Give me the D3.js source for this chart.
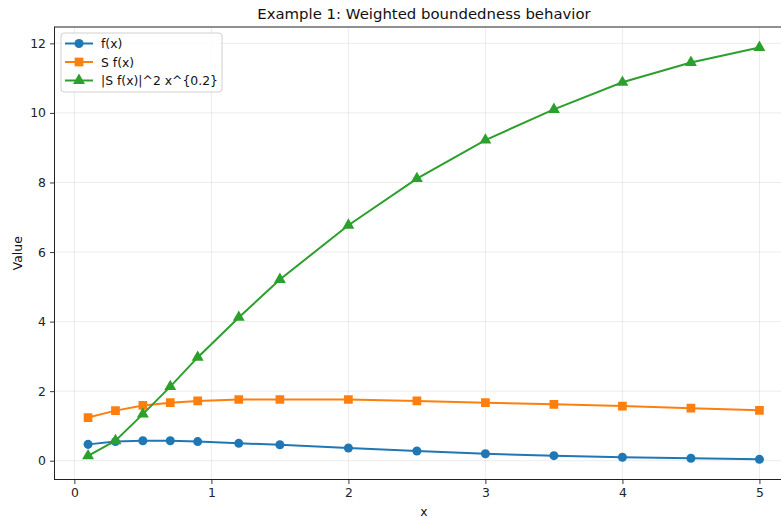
<!DOCTYPE html>
<html>
<head>
<meta charset="utf-8">
<script src="https://cdn.jsdelivr.net/npm/d3@7"></script>
<style>
  body { margin: 0; background: #fff; }
  svg { font-family: "DejaVu Sans", sans-serif; display: block; }
</style>
</head>
<body>
<div id="chart"></div>
<script>
// data
const xs = [0.1, 0.3, 0.5, 0.7, 0.9, 1.2, 1.5, 2.0, 2.5, 3.0, 3.5, 4.0, 4.5, 5.0];
const fVals = [0.47, 0.55, 0.575, 0.575, 0.55, 0.5, 0.46, 0.365, 0.28, 0.2, 0.145, 0.1, 0.07, 0.04];
const sVals = [1.24, 1.44, 1.59, 1.67, 1.72, 1.76, 1.76, 1.76, 1.72, 1.67, 1.62, 1.57, 1.51, 1.45];
const wVals = [0.14, 0.575, 1.34, 2.13, 2.97, 4.12, 5.21, 6.77, 8.11, 9.22, 10.1, 10.88, 11.45, 11.88];
const xTicks = [0, 1, 2, 3, 4, 5];
const yTicks = [0, 2, 4, 6, 8, 10, 12];

const series = [
  { name: "f(x)", values: fVals, color: "#1f77b4", marker: "circle" },
  { name: "S f(x)", values: sVals, color: "#ff7f0e", marker: "square" },
  { name: "|S f(x)|^2 x^{0.2}", values: wVals, color: "#2ca02c", marker: "triangle" }
];

const W = 781, H = 518;
const plot = { left: 54.5, right: 793, top: 27, bottom: 479.5 };
const fs = 12.4;

const svg = d3.select("#chart").append("svg")
  .attr("width", W)
  .attr("height", H);

const x = d3.scaleLinear().domain([-0.145, 5.245]).range([plot.left, plot.right]);
const y = d3.scaleLinear().domain([-0.54, 12.47]).range([plot.bottom, plot.top]);

// grid
const grid = svg.append("g").attr("stroke", "#b0b0b0").attr("stroke-opacity", 0.3).attr("stroke-width", 0.8);
grid.selectAll(".gx").data(xTicks).enter().append("line")
  .attr("x1", d => x(d)).attr("x2", d => x(d))
  .attr("y1", plot.top).attr("y2", plot.bottom);
grid.selectAll(".gy").data(yTicks).enter().append("line")
  .attr("x1", plot.left).attr("x2", plot.right)
  .attr("y1", d => y(d)).attr("y2", d => y(d));

// axes
const xAxis = d3.axisBottom(x).tickValues(xTicks).tickFormat(d3.format("d")).tickSize(4.5).tickSizeOuter(0).tickPadding(4);
const yAxis = d3.axisLeft(y).tickValues(yTicks).tickFormat(d3.format("d")).tickSize(4.5).tickSizeOuter(0).tickPadding(4);

const gx = svg.append("g").attr("transform", `translate(0,${plot.bottom})`).call(xAxis);
const gy = svg.append("g").attr("transform", `translate(${plot.left},0)`).call(yAxis);
[gx, gy].forEach(g => {
  g.select(".domain").remove();
  g.selectAll("line").attr("stroke", "#222").attr("stroke-width", 0.9);
  g.selectAll("text").attr("fill", "#222").style("font-size", fs + "px").style("font-family", "DejaVu Sans");
});

// spines
svg.append("rect")
  .attr("x", plot.left).attr("y", plot.top)
  .attr("width", plot.right - plot.left).attr("height", plot.bottom - plot.top)
  .attr("fill", "none").attr("stroke", "#222").attr("stroke-width", 1);

// lines + markers
const clip = svg.append("clipPath").attr("id", "clip").append("rect")
  .attr("x", 0).attr("y", plot.top).attr("width", W).attr("height", plot.bottom - plot.top);

const line = d3.line().x(d => x(d[0])).y(d => y(d[1]));
const symbols = {
  circle: d3.symbol().type(d3.symbolCircle).size(64),
  square: d3.symbol().type(d3.symbolSquare).size(76),
  triangle: d3.symbol().type(d3.symbolTriangle).size(62)
};

const plotG = svg.append("g").attr("clip-path", "url(#clip)");
series.forEach(s => {
  const pts = xs.map((v, i) => [v, s.values[i]]);
  plotG.append("path")
    .datum(pts)
    .attr("d", line)
    .attr("fill", "none")
    .attr("stroke", s.color)
    .attr("stroke-width", 2);
  plotG.selectAll(null).data(pts).enter().append("path")
    .attr("d", symbols[s.marker])
    .attr("transform", d => `translate(${x(d[0])},${y(d[1])})`)
    .attr("fill", s.color);
});

// title + labels
svg.append("text")
  .attr("x", 424).attr("y", 19)
  .attr("text-anchor", "middle")
  .style("font-size", "14.9px")
  .attr("fill", "#111")
  .text("Example 1: Weighted boundedness behavior");

svg.append("text")
  .attr("x", 424).attr("y", 516)
  .attr("text-anchor", "middle")
  .style("font-size", fs + "px")
  .attr("fill", "#111")
  .text("x");

svg.append("text")
  .attr("transform", `translate(22,${(plot.top + plot.bottom) / 2}) rotate(-90)`)
  .attr("text-anchor", "middle")
  .style("font-size", fs + "px")
  .attr("fill", "#111")
  .text("Value");

// legend
const lg = svg.append("g").attr("transform", "translate(61,33)");
lg.append("rect")
  .attr("width", 161).attr("height", 59).attr("rx", 3)
  .attr("fill", "#fff").attr("fill-opacity", 0.8)
  .attr("stroke", "#d0d0d0").attr("stroke-width", 1);
series.forEach((s, i) => {
  const cy = 10.5 + i * 18.5;
  lg.append("line")
    .attr("x1", 4).attr("x2", 32).attr("y1", cy).attr("y2", cy)
    .attr("stroke", s.color).attr("stroke-width", 2);
  lg.append("path")
    .attr("d", symbols[s.marker])
    .attr("transform", `translate(18,${cy})`)
    .attr("fill", s.color);
  lg.append("text")
    .attr("x", 40).attr("y", cy + 4.5)
    .style("font-size", fs + "px")
    .attr("fill", "#111")
    .text(s.name);
});
</script>
</body>
</html>
